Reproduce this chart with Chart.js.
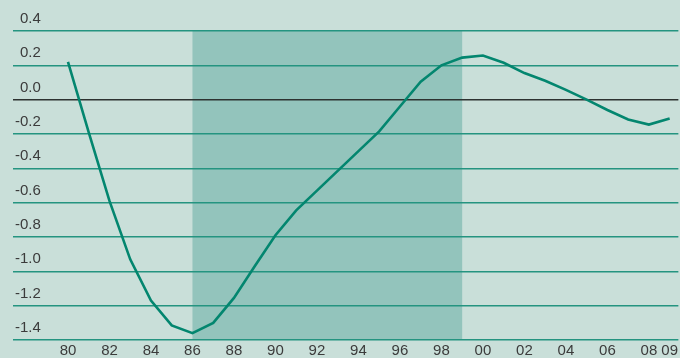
<!DOCTYPE html>
<html>
<head>
<meta charset="utf-8">
<script src="https://cdn.jsdelivr.net/npm/chart.js@4.4.1/dist/chart.umd.min.js"></script>
<style>
  html, body { margin: 0; padding: 0; background: #c9dfd9; }
  #wrap { width: 680px; height: 358px; position: relative; }
</style>
</head>
<body>
<div id="wrap"><canvas id="gapChart"></canvas></div>
<script>
// Años de la serie (1980-2009)
const years = [
  1980, 1981, 1982, 1983, 1984, 1985, 1986, 1987, 1988, 1989,
  1990, 1991, 1992, 1993, 1994, 1995, 1996, 1997, 1998, 1999,
  2000, 2001, 2002, 2003, 2004, 2005, 2006, 2007, 2008, 2009
];

// Valores de la serie
const values = [
  0.22, -0.19, -0.59, -0.93, -1.17, -1.315, -1.36, -1.30, -1.155, -0.97,
  -0.79, -0.645, -0.53, -0.415, -0.30, -0.185, -0.04, 0.105, 0.20, 0.245,
  0.257, 0.215, 0.155, 0.11, 0.057, 0.0, -0.06, -0.115, -0.145, -0.11
];

// Etiquetas del eje X (años mostrados)
const xTickYears = [1980, 1982, 1984, 1986, 1988, 1990, 1992, 1994, 1996, 1998, 2000, 2002, 2004, 2006, 2008, 2009];

// Periodo sombreado
const shadedYears = [1986, 1999];

const BG_COLOR = '#c9dfd9';
const SHADE_COLOR = '#93c4bc';
const LINE_COLOR = '#03866f';
const GRID_COLOR = '#249480';
const ZERO_COLOR = '#2d3230';
const TEXT_COLOR = '#3b3b3b';

// Fondo y franja sombreada, antes de la rejilla
const backgroundPlugin = {
  id: 'backgroundShade',
  beforeDraw(chart) {
    const { ctx, chartArea, scales } = chart;
    ctx.save();
    ctx.fillStyle = BG_COLOR;
    ctx.fillRect(0, 0, chart.width, chart.height);
    const x0 = scales.x.getPixelForValue(shadedYears[0]);
    const x1 = scales.x.getPixelForValue(shadedYears[1]);
    ctx.fillStyle = SHADE_COLOR;
    ctx.fillRect(x0, chartArea.top, x1 - x0, chartArea.bottom - chartArea.top);
    ctx.restore();
  }
};

const ctx = document.getElementById('gapChart').getContext('2d');
new Chart(ctx, {
  type: 'line',
  data: {
    datasets: [{
      data: years.map((y, i) => ({ x: y, y: values[i] })),
      borderColor: LINE_COLOR,
      borderWidth: 2.6,
      pointRadius: 0,
      tension: 0,
      fill: false
    }]
  },
  options: {
    responsive: true,
    maintainAspectRatio: false,
    animation: false,
    events: [],
    layout: {
      padding: { top: 31, left: 9, right: 0, bottom: 0 }
    },
    plugins: {
      legend: { display: false },
      tooltip: { enabled: false }
    },
    scales: {
      x: {
        type: 'linear',
        min: 1977.35,
        max: 2009.42,
        grid: { display: false, drawTicks: false },
        border: { display: false },
        afterBuildTicks: (scale) => {
          scale.ticks = xTickYears.map(v => ({ value: v }));
        },
        afterFit: (scale) => { scale.height = 18; },
        ticks: {
          autoSkip: false,
          maxRotation: 0,
          padding: 2,
          color: TEXT_COLOR,
          font: { family: '"Liberation Sans", Arial, sans-serif', size: 15 },
          callback: (value) => String(value).slice(2)
        }
      },
      y: {
        min: -1.4,
        max: 0.4,
        border: { display: false },
        grid: {
          drawTicks: false,
          color: (c) => Math.abs(c.tick.value) < 1e-9 ? ZERO_COLOR : GRID_COLOR,
          lineWidth: 1.4
        },
        ticks: {
          stepSize: 0.2,
          mirror: true,
          crossAlign: 'far',
          padding: 2,
          labelOffset: -12,
          color: TEXT_COLOR,
          font: { family: '"Liberation Sans", Arial, sans-serif', size: 15 },
          callback: (value) => (Math.abs(value) < 1e-9 ? 0 : value).toFixed(1)
        }
      }
    }
  },
  plugins: [backgroundPlugin]
});
</script>
</body>
</html>
